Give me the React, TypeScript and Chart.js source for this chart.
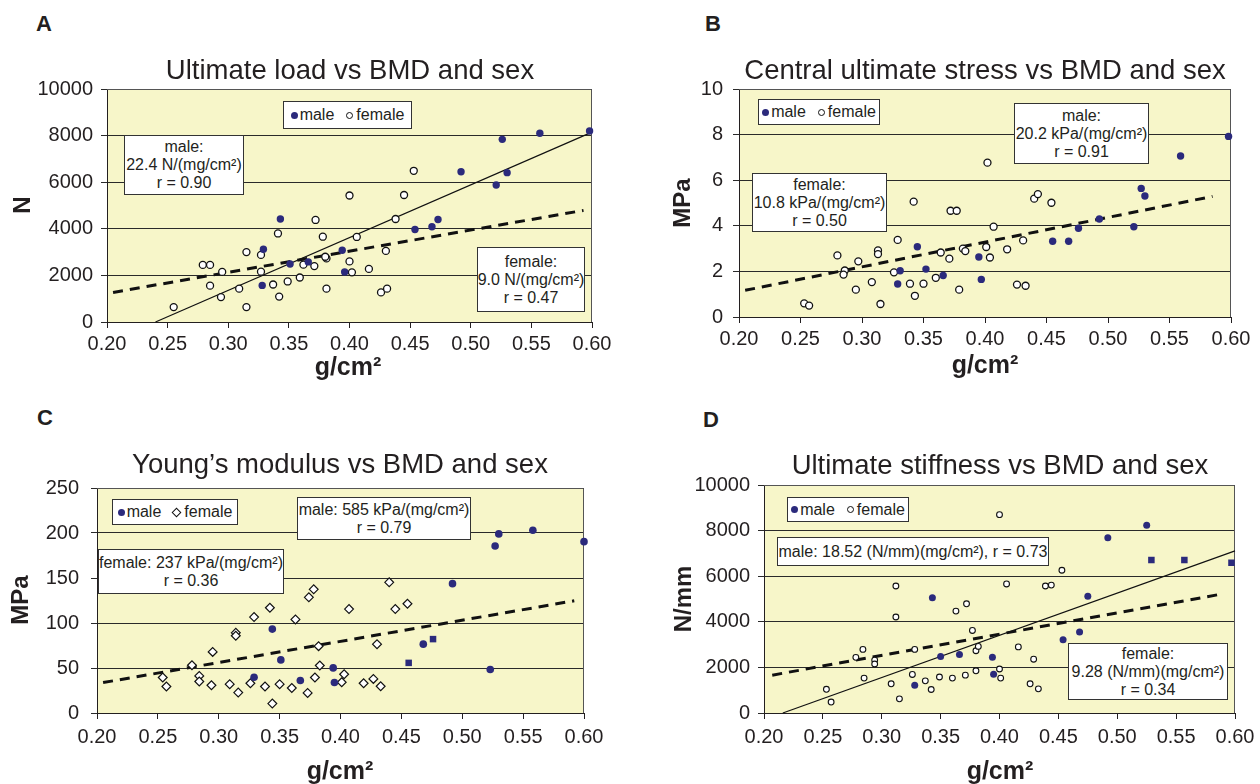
import React, { useEffect, useRef } from "react";
import { Chart, registerables } from "chart.js";
Chart.register(...registerables);

const FONT = "'Liberation Sans', Arial, Helvetica, sans-serif";
const INK = "#231f20";
const MALE = "#2b2a7c";
const PLOT_BG = "#f7f6c9";

// ---------- Panel A: Ultimate load (N) ----------
const aMaleX = [0.328, 0.329, 0.343, 0.351, 0.366, 0.394, 0.396, 0.454, 0.468, 0.473, 0.492, 0.521, 0.526, 0.530, 0.557, 0.598];
const aMaleY = [1570, 3120, 4420, 2490, 2580, 3080, 2150, 3970, 4090, 4400, 6450, 5880, 7840, 6410, 8100, 8200];
const aFemaleX = [0.255, 0.279, 0.285, 0.285, 0.295, 0.294, 0.309, 0.315, 0.315, 0.327, 0.327, 0.341, 0.337, 0.342, 0.349, 0.359, 0.362, 0.371, 0.372, 0.378, 0.381, 0.380, 0.381, 0.400, 0.402, 0.400, 0.453, 0.445, 0.438, 0.406, 0.430, 0.416, 0.426, 0.431];
const aFemaleY = [640, 2450, 2450, 1560, 2150, 1070, 1430, 3000, 640, 2880, 2160, 3800, 1610, 1090, 1740, 1910, 2460, 2400, 4380, 3660, 2730, 2800, 1430, 5430, 2130, 2600, 6490, 5450, 4420, 3650, 3050, 2280, 1270, 1430];
const aMaleFitX = [0.24, 0.60];
const aMaleFitY = [0, 8150];
const aFemaleFitX = [0.205, 0.593];
const aFemaleFitY = [1270, 4790];

// ---------- Panel B: Central ultimate stress (MPa) ----------
const bMaleX = [0.329, 0.331, 0.345, 0.352, 0.366, 0.395, 0.397, 0.455, 0.468, 0.476, 0.493, 0.521, 0.527, 0.530, 0.559, 0.598];
const bMaleY = [1.45, 2.03, 3.08, 2.10, 1.82, 2.63, 1.65, 3.32, 3.32, 3.89, 4.30, 3.96, 5.64, 5.31, 7.06, 7.92];
const bFemaleX = [0.253, 0.257, 0.280, 0.286, 0.285, 0.295, 0.297, 0.308, 0.313, 0.313, 0.315, 0.326, 0.329, 0.342, 0.339, 0.343, 0.350, 0.360, 0.364, 0.371, 0.372, 0.377, 0.379, 0.382, 0.384, 0.401, 0.402, 0.404, 0.407, 0.418, 0.431, 0.440, 0.443, 0.454, 0.426, 0.433];
const bFemaleY = [0.60, 0.50, 2.70, 2.04, 1.86, 1.20, 2.44, 1.53, 2.92, 2.76, 0.57, 1.96, 3.38, 5.06, 1.46, 0.93, 1.46, 1.72, 2.83, 2.56, 4.66, 4.66, 1.20, 3.00, 2.89, 3.07, 6.77, 2.61, 3.96, 2.97, 3.36, 5.19, 5.39, 5.01, 1.42, 1.37];
const bFemaleFitX = [0.205, 0.585];
const bFemaleFitY = [1.17, 5.29];

// ---------- Panel C: Young's modulus (MPa) ----------
const cMaleX = [0.329, 0.344, 0.351, 0.367, 0.394, 0.395, 0.468, 0.492, 0.523, 0.527, 0.530, 0.558, 0.600];
const cMaleY = [39.8, 93.2, 59.0, 36.1, 50.1, 33.9, 76.5, 143.7, 48.3, 185.6, 199.0, 203.1, 190.4];
const cMaleSqX = [0.456, 0.476];
const cMaleSqY = [55.7, 82.1];
const cFemaleX = [0.254, 0.257, 0.278, 0.284, 0.284, 0.294, 0.295, 0.309, 0.316, 0.314, 0.314, 0.326, 0.329, 0.338, 0.342, 0.344, 0.350, 0.360, 0.363, 0.373, 0.374, 0.378, 0.382, 0.383, 0.379, 0.401, 0.403, 0.407, 0.419, 0.427, 0.433, 0.430, 0.440, 0.445, 0.455];
const cFemaleY = [39.4, 29.4, 53.1, 41.2, 35.0, 30.8, 67.9, 32.0, 22.7, 89.1, 85.8, 33.1, 106.6, 29.4, 116.9, 10.5, 32.0, 27.8, 104.0, 22.3, 128.5, 137.4, 74.3, 52.8, 39.4, 34.2, 43.1, 115.5, 33.1, 37.9, 29.7, 76.5, 145.2, 115.5, 121.4];
const cFemaleFitX = [0.205, 0.592];
const cFemaleFitY = [33.8, 124.7];

// ---------- Panel D: Ultimate stiffness (N/mm) ----------
const dMaleX = [0.328, 0.343, 0.350, 0.366, 0.394, 0.395, 0.454, 0.468, 0.475, 0.492, 0.525];
const dMaleY = [1220, 5060, 2480, 2570, 2440, 1700, 3210, 3550, 5120, 7690, 8240];
const dMaleSqX = [0.529, 0.557, 0.597];
const dMaleSqY = [6710, 6710, 6590];
const dFemaleX = [0.253, 0.257, 0.278, 0.284, 0.285, 0.294, 0.294, 0.308, 0.312, 0.312, 0.315, 0.326, 0.328, 0.337, 0.342, 0.349, 0.360, 0.363, 0.371, 0.372, 0.377, 0.380, 0.382, 0.380, 0.400, 0.400, 0.401, 0.406, 0.416, 0.429, 0.426, 0.433, 0.439, 0.444, 0.453];
const dFemaleY = [1040, 480, 2440, 2790, 1530, 2320, 2150, 1280, 5570, 4210, 620, 1690, 2790, 1410, 1030, 1580, 1530, 4470, 1660, 4790, 3620, 2730, 2920, 1850, 8700, 1930, 1530, 5660, 2900, 2360, 1280, 1060, 5570, 5610, 6260];
const dMaleFitX = [0.216, 0.600];
const dMaleFitY = [0, 7110];
const dFemaleFitX = [0.207, 0.589];
const dFemaleFitY = [1660, 5220];

// axis ranges
const X_MIN = 0.2;
const X_MAX = 0.6;
const X_STEP = 0.05;

const pts = (xs: number[], ys: number[]) => xs.map((x, i) => ({ x, y: ys[i] }));

const maleSet = (xs: number[], ys: number[], r: number, style = "circle") => ({
  data: pts(xs, ys),
  pointStyle: style,
  pointRadius: r,
  backgroundColor: MALE,
  borderColor: MALE,
  borderWidth: 0,
  clip: false,
});
const femaleSet = (xs: number[], ys: number[], r: number, bw: number, style = "circle") => ({
  data: pts(xs, ys),
  pointStyle: style,
  pointRadius: r,
  backgroundColor: "#ffffff",
  borderColor: "#111111",
  borderWidth: bw,
  clip: false,
});
const solidFit = (xs: number[], ys: number[]) => ({
  data: pts(xs, ys),
  showLine: true,
  pointRadius: 0,
  borderColor: "#111111",
  borderWidth: 1.2,
  clip: false,
});
const dashFit = (xs: number[], ys: number[]) => ({
  data: pts(xs, ys),
  showLine: true,
  pointRadius: 0,
  borderColor: "#111111",
  borderWidth: 3,
  borderDash: [10, 7],
  borderCapStyle: "butt",
  clip: false,
});

const plotFrame = {
  id: "plotFrame",
  beforeDraw(chart: any) {
    const a = chart.chartArea;
    const ctx = chart.ctx;
    ctx.save();
    ctx.fillStyle = PLOT_BG;
    ctx.fillRect(a.left, a.top, a.right - a.left, a.bottom - a.top);
    ctx.restore();
  },
  beforeDatasetsDraw(chart: any) {
    const a = chart.chartArea;
    const ctx = chart.ctx;
    ctx.save();
    ctx.strokeStyle = "#555555";
    ctx.lineWidth = 1;
    ctx.beginPath();
    ctx.moveTo(a.left, Math.round(a.top) + 0.5);
    ctx.lineTo(Math.round(a.right) - 0.5, Math.round(a.top) + 0.5);
    ctx.lineTo(Math.round(a.right) - 0.5, a.bottom);
    ctx.stroke();
    ctx.restore();
  },
};

type PanelCfg = {
  canvas: { x: number; y: number; w: number; h: number };
  plot: { l: number; r: number; t: number; b: number };
  yMax: number;
  yStep: number;
  yPad: number;
  xPad: number;
  datasets: any[];
};

function ChartPanel({ cfg }: { cfg: PanelCfg }) {
  const ref = useRef<HTMLCanvasElement>(null);
  useEffect(() => {
    const { canvas, plot } = cfg;
    const yW = plot.l - canvas.x;
    const xH = canvas.y + canvas.h - plot.b;
    const tickFont = { family: FONT, size: 20 };
    const chart = new Chart(ref.current as HTMLCanvasElement, {
      type: "scatter",
      data: { datasets: cfg.datasets },
      options: {
        animation: false,
        responsive: false,
        devicePixelRatio: 1,
        events: [],
        layout: { padding: { left: 0, bottom: 0, top: plot.t - canvas.y, right: canvas.x + canvas.w - plot.r } },
        plugins: { legend: { display: false }, tooltip: { enabled: false }, title: { display: false } },
        scales: {
          x: {
            type: "linear",
            position: "bottom",
            min: X_MIN,
            max: X_MAX,
            afterFit: (s: any) => {
              s.height = xH;
              s.paddingLeft = 0;
              s.paddingRight = 0;
            },
            ticks: {
              stepSize: X_STEP,
              autoSkip: false,
              maxRotation: 0,
              padding: cfg.xPad,
              color: INK,
              font: tickFont,
              callback: (v: any) => Number(v).toFixed(2),
            },
            grid: { drawOnChartArea: false, drawTicks: true, tickLength: 6, color: INK, lineWidth: 1 },
            border: { display: true, color: INK, width: 1 },
          },
          y: {
            type: "linear",
            min: 0,
            max: cfg.yMax,
            afterFit: (s: any) => {
              s.width = yW;
              s.paddingTop = 0;
              s.paddingBottom = 0;
            },
            ticks: { stepSize: cfg.yStep, padding: cfg.yPad, color: INK, font: tickFont, callback: (v: any) => String(Math.round(Number(v))) },
            grid: { drawOnChartArea: true, drawTicks: true, tickLength: 6, color: "#2a2a2a", lineWidth: 1 },
            border: { display: true, color: INK, width: 1 },
          },
        },
      } as any,
      plugins: [plotFrame],
    });
    return () => chart.destroy();
  }, [cfg]);
  const c = cfg.canvas;
  return (
    <canvas
      ref={ref}
      width={c.w}
      height={c.h}
      style={{ position: "absolute", left: c.x, top: c.y, width: c.w, height: c.h }}
    />
  );
}

const panelA: PanelCfg = {
  canvas: { x: 0, y: 80, w: 625, h: 300 },
  plot: { l: 107, r: 592, t: 89, b: 322 },
  yMax: 10000,
  yStep: 2000,
  yPad: 8,
  xPad: 4,
  datasets: [
    maleSet(aMaleX, aMaleY, 3.7),
    femaleSet(aFemaleX, aFemaleY, 3.5, 1.3),
    solidFit(aMaleFitX, aMaleFitY),
    dashFit(aFemaleFitX, aFemaleFitY),
  ],
};
const panelB: PanelCfg = {
  canvas: { x: 630, y: 80, w: 630, h: 300 },
  plot: { l: 739, r: 1231, t: 89, b: 317 },
  yMax: 10,
  yStep: 2,
  yPad: 10,
  xPad: 4,
  datasets: [
    maleSet(bMaleX, bMaleY, 3.7),
    femaleSet(bFemaleX, bFemaleY, 3.5, 1.3),
    dashFit(bFemaleFitX, bFemaleFitY),
  ],
};
const panelC: PanelCfg = {
  canvas: { x: 0, y: 478, w: 625, h: 300 },
  plot: { l: 97, r: 584, t: 488, b: 713 },
  yMax: 250,
  yStep: 50,
  yPad: 12,
  xPad: 6,
  datasets: [
    maleSet(cMaleX, cMaleY, 3.8),
    maleSet(cMaleSqX, cMaleSqY, 4.6, "rect"),
    femaleSet(cFemaleX, cFemaleY, 4.4, 1.2, "rectRot"),
    dashFit(cFemaleFitX, cFemaleFitY),
  ],
};
const panelD: PanelCfg = {
  canvas: { x: 630, y: 475, w: 630, h: 303 },
  plot: { l: 764, r: 1235, t: 485, b: 713 },
  yMax: 10000,
  yStep: 2000,
  yPad: 8,
  xPad: 6,
  datasets: [
    maleSet(dMaleX, dMaleY, 3.5),
    maleSet(dMaleSqX, dMaleSqY, 4.6, "rect"),
    femaleSet(dFemaleX, dFemaleY, 2.9, 1.1),
    solidFit(dMaleFitX, dMaleFitY),
    dashFit(dFemaleFitX, dFemaleFitY),
  ],
};

const abs = (o: React.CSSProperties): React.CSSProperties => ({ position: "absolute", ...o });

function Letter({ x, cy, t }: { x: number; cy: number; t: string }) {
  return (
    <div style={abs({ left: x, top: cy - 13, height: 26, lineHeight: "26px", fontSize: 22, fontWeight: "bold", color: INK })}>
      {t}
    </div>
  );
}
function Title({ cx, cy, t }: { cx: number; cy: number; t: string }) {
  return (
    <div
      style={abs({ left: cx - 320, width: 640, top: cy - 16, height: 32, lineHeight: "32px", fontSize: 27.5, textAlign: "center", color: INK, whiteSpace: "nowrap" })}
    >
      {t}
    </div>
  );
}
function XTitle({ cx, base }: { cx: number; base: number }) {
  return (
    <div
      style={abs({ left: cx - 100, width: 200, top: base - 22, height: 30, lineHeight: "30px", fontSize: 25, fontWeight: "bold", textAlign: "center", color: INK })}
    >
      g/cm²
    </div>
  );
}
function YTitle({ cx, cy, t }: { cx: number; cy: number; t: string }) {
  return (
    <div
      style={abs({ left: cx - 100, width: 200, top: cy - 15, height: 30, lineHeight: "30px", fontSize: 24, fontWeight: "bold", textAlign: "center", color: INK, transform: "rotate(-90deg)" })}
    >
      {t}
    </div>
  );
}
function Box({ l, t, w, h, lines }: { l: number; t: number; w: number; h: number; lines: string[] }) {
  return (
    <div
      style={abs({
        left: l,
        top: t,
        width: w,
        height: h,
        boxSizing: "border-box",
        border: "1.5px solid #333",
        background: "#fff",
        display: "flex",
        flexDirection: "column",
        justifyContent: "center",
        alignItems: "center",
        fontSize: 16,
        lineHeight: "18px",
        color: INK,
        whiteSpace: "nowrap",
      })}
    >
      {lines.map((s, i) => (
        <div key={i}>{s}</div>
      ))}
    </div>
  );
}
function Legend({ l, t, w, h, diamond }: { l: number; t: number; w: number; h: number; diamond?: boolean }) {
  const female: React.CSSProperties = diamond
    ? { width: 5, height: 5, border: "1.2px solid #111", background: "#fff", transform: "rotate(45deg)", display: "inline-block", marginRight: 4 }
    : { width: 5, height: 5, border: "1.2px solid #111", borderRadius: "50%", background: "#fff", display: "inline-block", marginRight: 3 };
  return (
    <div
      style={abs({
        left: l,
        top: t,
        width: w,
        height: h,
        boxSizing: "border-box",
        border: "1.5px solid #333",
        background: "#fff",
        display: "flex",
        alignItems: "center",
        justifyContent: "center",
        fontSize: 16,
        color: INK,
        whiteSpace: "nowrap",
      })}
    >
      <span style={{ width: 7, height: 7, borderRadius: "50%", background: MALE, display: "inline-block", marginRight: 2 }} />
      <span style={{ marginRight: 12 }}>male</span>
      <span style={female} />
      <span>female</span>
    </div>
  );
}

export default function App() {
  return (
    <div
      style={{ position: "fixed", left: 0, top: 0, width: 1260, height: 784, background: "#fff", overflow: "hidden", fontFamily: FONT }}
    >
      <ChartPanel cfg={panelA} />
      <ChartPanel cfg={panelB} />
      <ChartPanel cfg={panelC} />
      <ChartPanel cfg={panelD} />

      <Letter x={36} cy={24} t="A" />
      <Letter x={705} cy={24} t="B" />
      <Letter x={37} cy={418} t="C" />
      <Letter x={703} cy={420} t="D" />

      <Title cx={350} cy={70} t="Ultimate load vs BMD and sex" />
      <Title cx={985} cy={70} t="Central ultimate stress vs BMD and sex" />
      <Title cx={340} cy={464} t="Young’s modulus vs BMD and sex" />
      <Title cx={1000} cy={465} t="Ultimate stiffness vs BMD and sex" />

      <YTitle cx={22} cy={205} t="N" />
      <YTitle cx={682} cy={203} t="MPa" />
      <YTitle cx={20} cy={600} t="MPa" />
      <YTitle cx={683} cy={599} t="N/mm" />

      <XTitle cx={348} base={373} />
      <XTitle cx={985} base={371} />
      <XTitle cx={340} base={777} />
      <XTitle cx={1000} base={777} />

      <Legend l={283} t={101} w={129} h={28} />
      <Legend l={758} t={99} w={122} h={26} />
      <Legend l={112} t={499} w={126} h={26} diamond />
      <Legend l={787} t={497} w={122} h={25} />

      <Box l={124} t={135} w={120} h={60} lines={["male:", "22.4 N/(mg/cm²)", "r = 0.90"]} />
      <Box l={477} t={247} w={108} h={65} lines={["female:", "9.0 N/(mg/cm²)", "r = 0.47"]} />
      <Box l={752} t={173} w={135} h={59} lines={["female:", "10.8 kPa/(mg/cm²)", "r = 0.50"]} />
      <Box l={1014} t={103} w={135} h={61} lines={["male:", "20.2 kPa/(mg/cm²)", "r = 0.91"]} />
      <Box l={98} t={549} w={186} h={45} lines={["female: 237 kPa/(mg/cm²)", "r = 0.36"]} />
      <Box l={297} t={497} w={174} h={43} lines={["male: 585 kPa/(mg/cm²)", "r = 0.79"]} />
      <Box l={777} t={537} w={272} h={29} lines={["male: 18.52 (N/mm)(mg/cm²), r = 0.73"]} />
      <Box l={1068} t={643} w={160} h={57} lines={["female:", "9.28 (N/mm)(mg/cm²)", "r = 0.34"]} />
    </div>
  );
}
